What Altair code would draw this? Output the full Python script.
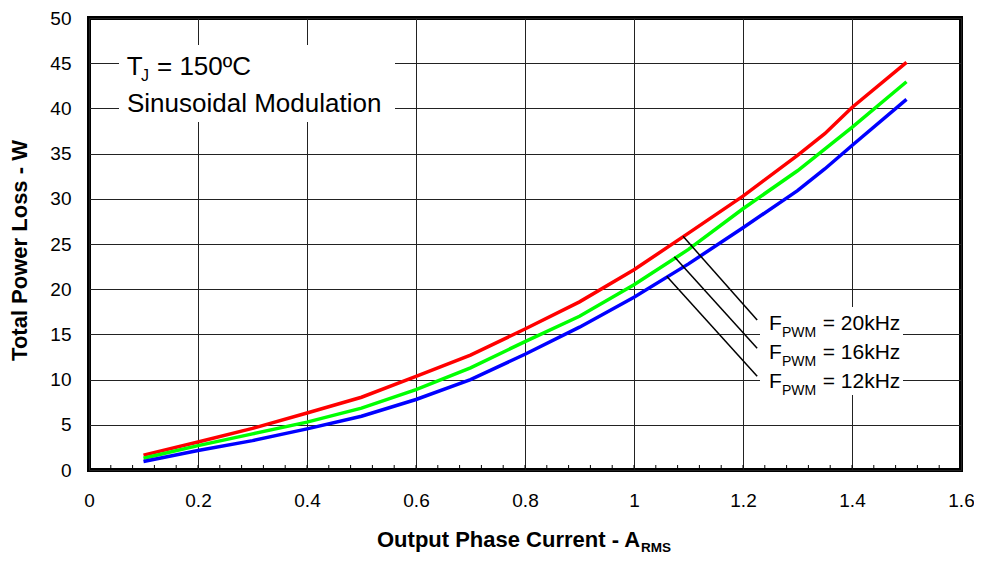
import altair as alt
import pandas as pd

# ---- data ----
current = [0.1, 0.2, 0.3, 0.4, 0.5, 0.6, 0.7, 0.8, 0.9, 1.0, 1.1, 1.2, 1.3, 1.35, 1.4, 1.5]
loss_20khz = [1.65, 3.1, 4.6, 6.3, 8.05, 10.35, 12.7, 15.6, 18.6, 22.15, 26.2, 30.3, 34.8, 37.2, 40.1, 45.1]
loss_16khz = [1.3, 2.7, 4.0, 5.3, 6.85, 8.9, 11.3, 14.2, 17.0, 20.5, 24.4, 28.9, 33.1, 35.5, 37.9, 42.95]
loss_12khz = [0.95, 2.15, 3.25, 4.55, 5.95, 7.8, 10.0, 12.8, 15.8, 19.1, 22.8, 26.8, 30.9, 33.3, 35.9, 41.0]

series_names = ["20kHz", "16kHz", "12kHz"]
series_colors = ["#FF0000", "#00FF00", "#0000FF"]

x_ticks = [0, 0.2, 0.4, 0.6, 0.8, 1.0, 1.2, 1.4, 1.6]
y_ticks = [0, 5, 10, 15, 20, 25, 30, 35, 40, 45, 50]
minor_x_ticks = [round(i * 0.04, 2) for i in range(1, 40)]

# leader lines (data coordinates): start on curve -> end near label
leader_x_start = [1.090, 1.074, 1.060]
leader_y_start = [25.85, 23.6, 21.43]
leader_x_end = [1.226, 1.226, 1.226]
leader_y_end = [16.6, 13.46, 10.37]

FONT = "Liberation Sans"
W, H = 872, 452

rows = []
for name, vals in zip(series_names, [loss_20khz, loss_16khz, loss_12khz]):
    for c, v in zip(current, vals):
        rows.append({"current": c, "loss": v, "series": name})
df = pd.DataFrame(rows)

xs = alt.Scale(domain=[0, 1.6], nice=False, zero=False)
ys = alt.Scale(domain=[0, 50], nice=False, zero=False)

x_axis = alt.Axis(values=x_ticks, format="~g", grid=True, ticks=False, domain=False,
                  labelFont=FONT, labelFontSize=19, labelColor="black", labelPadding=21,
                  labelFlush=False, labelOverlap=False, title=None,
                  gridColor="#222222", gridWidth=1)
y_axis = alt.Axis(values=y_ticks, grid=True, ticks=False, domain=False,
                  labelFont=FONT, labelFontSize=19, labelColor="black", labelPadding=18,
                  labelFlush=False, labelOverlap=False, title=None,
                  gridColor="#222222", gridWidth=1)

lines = alt.Chart(df).mark_line(strokeWidth=3.5).encode(
    x=alt.X("current:Q", scale=xs, axis=x_axis),
    y=alt.Y("loss:Q", scale=ys, axis=y_axis),
    color=alt.Color("series:N", scale=alt.Scale(domain=series_names, range=series_colors), legend=None),
    detail="series:N",
)

one = pd.DataFrame({"k": [0]})

# white boxes behind annotation texts (mask gridlines)
box1 = alt.Chart(one).mark_rect(color="white").encode(
    x=alt.value(30), x2=alt.value(306), y=alt.value(27), y2=alt.value(104))
box2 = alt.Chart(one).mark_rect(color="white").encode(
    x=alt.value(671), x2=alt.value(814), y=alt.value(289), y2=alt.value(377))

# minor ticks on bottom axis (inside)
minor = alt.Chart(pd.DataFrame({"t": minor_x_ticks})).mark_rule(color="black", strokeWidth=1).encode(
    x=alt.X("t:Q", scale=xs), y=alt.value(H), y2=alt.value(H - 5))

leaders = alt.Chart(pd.DataFrame({
    "x0": leader_x_start, "y0": leader_y_start, "x1": leader_x_end, "y1": leader_y_end
})).mark_rule(color="black", strokeWidth=1.5).encode(
    x=alt.X("x0:Q", scale=xs), y=alt.Y("y0:Q", scale=ys),
    x2="x1:Q", y2="y1:Q")

# annotation texts (pixel positions inside plot area)
ann_rows = [
    ("T", 37.7, 57, 26), ("J", 52, 63, 16), ("= 150ºC", 68, 57, 26),
    ("Sinusoidal Modulation", 38, 93.7, 26),
]
for i, f in enumerate(["20kHz", "16kHz", "12kHz"]):
    by = 312 + i * 29.2
    ann_rows += [("F", 680, by, 21), ("PWM", 693, by + 6.7, 14), ("= " + f, 733.7, by, 21)]
ann = pd.DataFrame(ann_rows, columns=["text", "px", "py", "fs"])
ann_text = alt.Chart(ann).mark_text(align="left", baseline="alphabetic", font=FONT, color="black").encode(
    x=alt.X("px:Q", scale=None), y=alt.Y("py:Q", scale=None),
    size=alt.Size("fs:Q", scale=None), text="text:N")

# axis titles with subscripts
title_rows = pd.DataFrame([
    ("Output Phase Current - A", 288, 529, 22),
    ("RMS", 552, 534, 13.5),
], columns=["text", "px", "py", "fs"])
x_title = alt.Chart(title_rows).mark_text(align="left", baseline="alphabetic", font=FONT,
                                          fontWeight="bold", color="black").encode(
    x=alt.X("px:Q", scale=None), y=alt.Y("py:Q", scale=None),
    size=alt.Size("fs:Q", scale=None), text="text:N")

y_title = alt.Chart(one).mark_text(text="Total Power Loss - W", angle=270, align="center",
                                   baseline="middle", font=FONT, fontWeight="bold",
                                   fontSize=22, color="black").encode(
    x=alt.value(-69), y=alt.value(232.5))

chart = alt.layer(lines, box1, box2, minor, leaders, ann_text, x_title, y_title).properties(
    width=W, height=H,
    padding={"left": 81, "top": 10, "right": 13, "bottom": 86},
    autosize=alt.AutoSizeParams(type="none"),
    background="white",
).configure_view(stroke="black", strokeWidth=4)

chart.save("out.html", embed_options={"renderer": "svg", "actions": False})
